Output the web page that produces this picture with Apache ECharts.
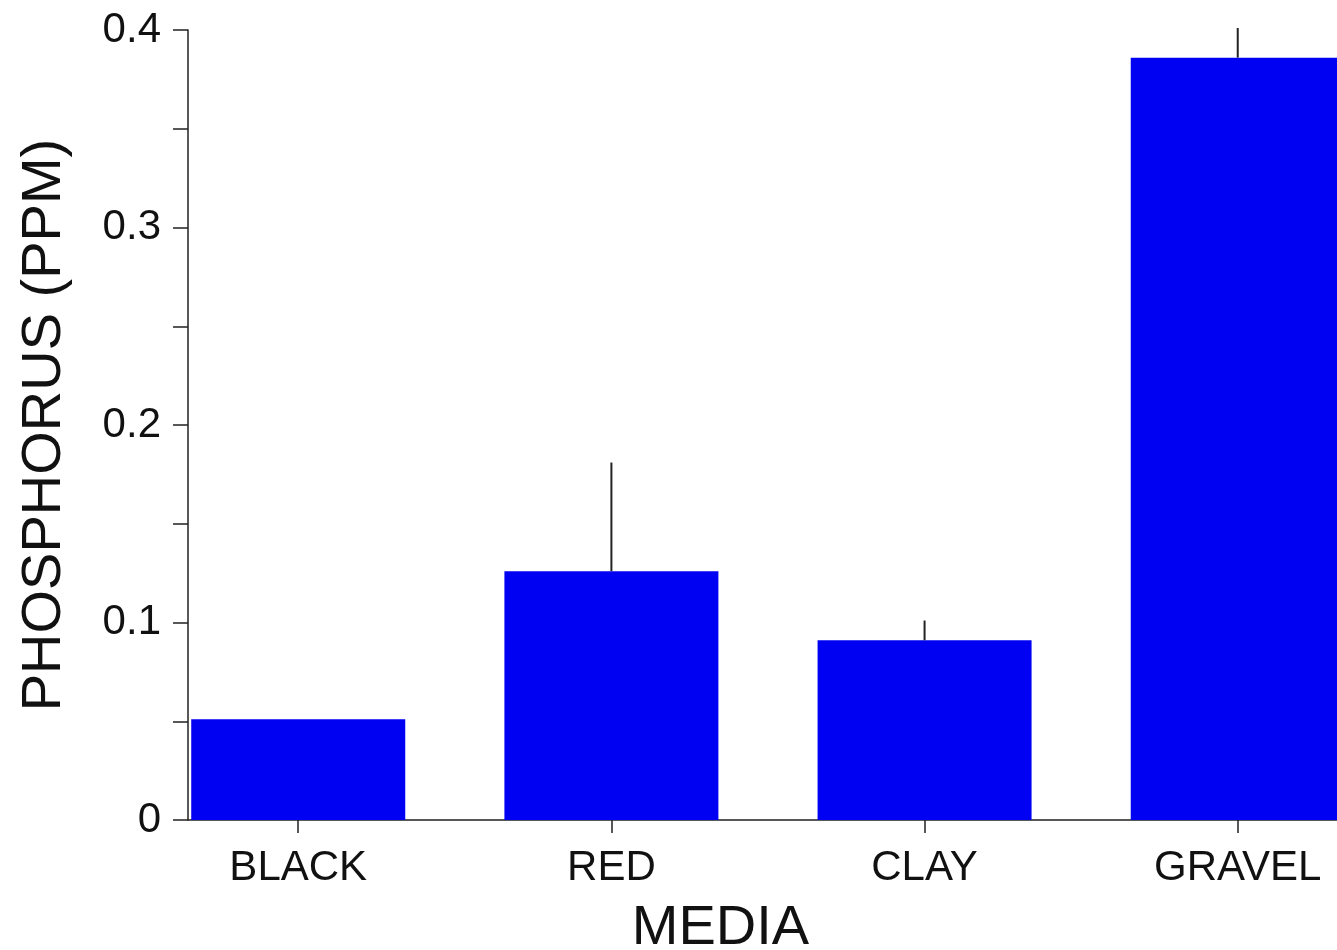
<!DOCTYPE html>
<html>
<head>
<meta charset="utf-8">
<script src="https://cdn.jsdelivr.net/npm/echarts@6/dist/echarts.min.js"></script>
<style>
  html, body { margin: 0; padding: 0; background: #fff; }
  #chart { width: 1337px; height: 950px; }
</style>
</head>
<body>
<div id="chart"></div>
<script>
// Growing media and their mean phosphorus concentration (ppm)
const media = ['BLACK', 'RED', 'CLAY', 'GRAVEL'];
const meanPhosphorus = [0.051, 0.126, 0.091, 0.386];
// Upper error bar length above each mean (ppm)
const upperError = [0, 0.055, 0.010, 0.015];
const yTicks = [0, 0.1, 0.2, 0.3, 0.4];

const positions = media.map((_, i) => i + 1);
const barData = positions.map((p, i) => [p, meanPhosphorus[i]]);
const errData = positions.map((p, i) => [p, meanPhosphorus[i], meanPhosphorus[i] + upperError[i]]);

const FONT = 'Liberation Sans, Arial, sans-serif';
const INK = '#111';

const chart = echarts.init(document.getElementById('chart'), null, { renderer: 'canvas' });

chart.setOption({
  backgroundColor: '#ffffff',
  animation: false,
  grid: { left: 188, top: 30, height: 790, width: 1175, containLabel: false, outerBoundsMode: 'none' },
  xAxis: {
    type: 'value',
    min: 0.648,
    max: 4.4,
    name: 'MEDIA',
    nameLocation: 'middle',
    nameGap: 81,
    nameTextStyle: { fontFamily: FONT, fontSize: 56, color: INK, padding: [0, 110, 0, 0] },
    axisLine: { show: true, onZero: false, lineStyle: { color: '#222', width: 1.5 } },
    axisTick: { show: true, customValues: positions, length: 13, inside: false, lineStyle: { color: '#222', width: 1.5 } },
    axisLabel: {
      customValues: positions,
      margin: 27,
      fontFamily: FONT,
      fontSize: 42,
      color: INK,
      formatter: v => media[Math.round(v) - 1] || ''
    },
    splitLine: { show: false }
  },
  yAxis: {
    type: 'value',
    min: yTicks[0],
    max: yTicks[yTicks.length - 1],
    interval: 0.1,
    name: 'PHOSPHORUS (PPM)',
    nameLocation: 'middle',
    nameGap: 115,
    nameTextStyle: { fontFamily: FONT, fontSize: 56, color: INK },
    axisLine: { show: true, lineStyle: { color: '#222', width: 1.5 } },
    axisTick: { show: true, length: 15, lineStyle: { color: '#222', width: 1.5 } },
    minorTick: { show: true, splitNumber: 2, length: 15, lineStyle: { color: '#222', width: 1.5 } },
    axisLabel: {
      margin: 27,
      fontFamily: FONT,
      fontSize: 42,
      color: INK,
      formatter: v => String(Math.round(v * 10) / 10)
    },
    splitLine: { show: false },
    minorSplitLine: { show: false }
  },
  series: [
    {
      type: 'bar',
      data: barData,
      barWidth: 214,
      itemStyle: { color: '#0000F2' },
      z: 2
    },
    {
      type: 'custom',
      data: errData,
      clip: false,
      z: 3,
      renderItem: (params, api) => {
        const x = api.value(0);
        const lo = api.coord([x, api.value(1)]);
        const hi = api.coord([x, api.value(2)]);
        return {
          type: 'line',
          shape: { x1: lo[0], y1: lo[1], x2: hi[0], y2: hi[1] },
          style: { stroke: '#222', lineWidth: 2 }
        };
      }
    }
  ]
});
</script>
</body>
</html>
